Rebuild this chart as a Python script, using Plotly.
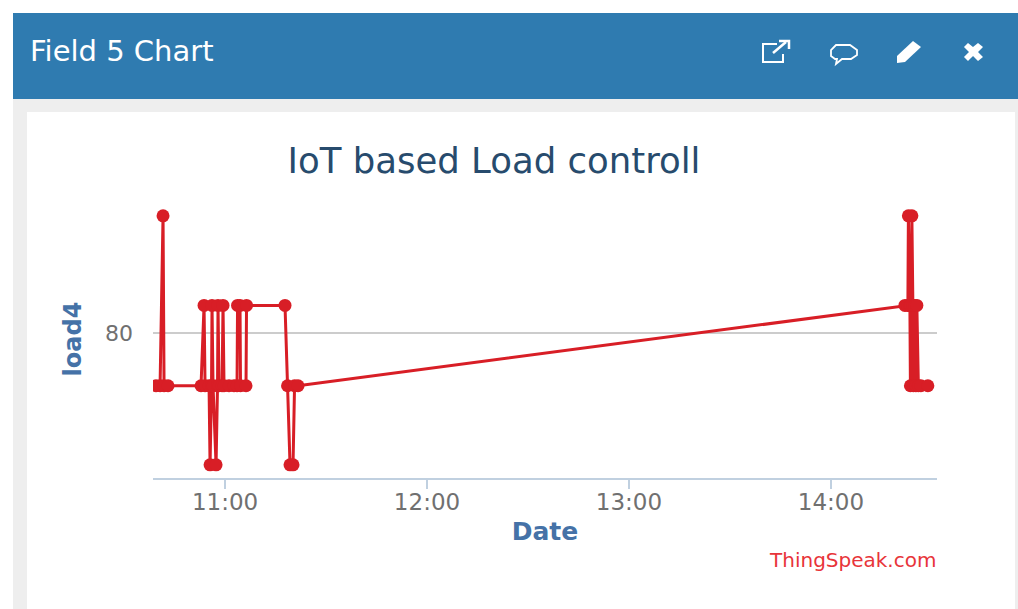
import plotly.graph_objects as go

W, H = 1018, 609

chart_title = "IoT based Load controll"
panel_title = "Field 5 Chart"
x_title = "Date"
y_title = "load4"
credit = "ThingSpeak.com"

times = [
    "10:39:31", "10:40:42", "10:41:35", "10:41:53", "10:43:04",
    "10:52:52", "10:53:46", "10:54:04", "10:55:15", "10:55:33", "10:55:59",
    "10:56:08", "10:56:26", "10:57:20", "10:57:46", "10:57:55", "10:58:13",
    "10:59:07", "10:59:24", "10:59:42", "11:01:11", "11:02:40", "11:03:34",
    "11:03:43", "11:04:27", "11:04:36", "11:06:14", "11:06:23", "11:17:49",
    "11:18:34", "11:19:18", "11:20:12", "11:20:39", "11:21:41",
    "14:21:58", "14:22:51", "14:23:00", "14:23:27", "14:23:36", "14:23:45",
    "14:24:02", "14:24:20", "14:24:29", "14:24:56", "14:25:14", "14:25:31",
    "14:25:58", "14:26:43", "14:28:47",
]
load4 = [
    76, 76, 88.9, 76, 76,
    76, 82.1, 76, 76, 70, 76,
    82.1, 76, 70, 76, 82.1, 76,
    76, 82.1, 76, 76, 76, 76,
    82.1, 82.1, 76, 76, 82.1, 82.1,
    76, 70, 70, 76, 76,
    82.1, 82.1, 88.9, 82.1, 76, 82.1,
    88.9, 82.1, 76, 82.1, 76, 82.1,
    76, 76, 76,
]

x_ticks = ["11:00", "12:00", "13:00", "14:00"]
y_ticks = [80]
x_range = ["10:38:36", "14:31:30"]
y_range = [69.0, 90.1]

DAY = "2018-03-12 "


def px(x):
    return x / W


def py(y):
    return 1 - y / H


def rect(x0, y0, x1, y1, color):
    return dict(type="rect", xref="paper", yref="paper", x0=px(x0), x1=px(x1),
                y0=py(y1), y1=py(y0), fillcolor=color, line_width=0, layer="below")


def icon(points, fill=None, line=None, width=2, close=False):
    d = "M " + " L ".join(f"{px(a):.5f},{py(b):.5f}" for a, b in points)
    if close:
        d += " Z"
    return dict(type="path", xref="paper", yref="paper", path=d,
                fillcolor=fill or "rgba(0,0,0,0)",
                line=dict(color=line or "rgba(0,0,0,0)", width=width), layer="above")


shapes = [
    rect(13, 13, 1018, 99, "#2f7bb0"),
    rect(13, 99, 1018, 609, "#eeeeee"),
    rect(27, 112, 1015, 609, "#ffffff"),
    # external link
    icon([(777, 44), (763, 44), (763, 62), (783, 62), (783, 54)], line="white", width=2),
    icon([(773, 53), (786, 42)], line="white", width=2.5),
    icon([(779, 41), (789, 41), (789, 49)], line="white", width=2.5),
    # speech bubble
    icon([(835, 59), (831, 56), (831, 50), (836, 45), (850, 45), (857, 50),
          (857, 55), (851, 59), (842, 59), (836, 64), (837, 59)], line="white", width=1.8, close=True),
    # pencil
    icon([(897, 56), (913, 41), (921, 47), (905, 62), (897, 63)], fill="white", close=True),
    # close cross
    icon([(968, 43), (973, 47), (978, 43), (983, 47), (978, 52), (983, 57),
          (978, 61), (973, 56), (968, 61), (964, 57), (969, 52), (964, 47)], fill="white", close=True),
]

fig = go.Figure(go.Scatter(
    x=[DAY + t for t in times], y=load4, mode="lines+markers",
    line=dict(color="#d81e26", width=3),
    marker=dict(color="#d81e26", size=13),
    hoverinfo="skip", showlegend=False,
))

font = "DejaVu Sans"
fig.update_layout(
    width=W, height=H, margin=dict(l=0, r=0, t=0, b=0),
    paper_bgcolor="white", plot_bgcolor="rgba(0,0,0,0)",
    font=dict(family=font),
    shapes=shapes,
    title=dict(text=chart_title, x=494 / W, xanchor="center", y=py(161), yanchor="middle",
               font=dict(size=35.5, color="#274b6d", family=font)),
    xaxis=dict(
        domain=[px(153), px(937)], range=[DAY + x_range[0], DAY + x_range[1]],
        tickvals=[DAY + t for t in x_ticks], ticktext=x_ticks, ticks="outside",
        ticklen=9, tickwidth=1.5, tickcolor="#c0d0e0", showline=True, linecolor="#c0d0e0",
        linewidth=2, showgrid=False, zeroline=False, ticklabelstandoff=-7,
        tickfont=dict(size=23, color="#707070"),
        title=dict(text=f"<b>{x_title}</b>", standoff=9,
                   font=dict(size=25, color="#4572a7")),
        automargin=False,
    ),
    yaxis=dict(
        domain=[py(478), py(200)], range=y_range, tickvals=y_ticks,
        showgrid=True, gridcolor="#cccccc", gridwidth=2, zeroline=False,
        showline=False, ticks="", ticklabelstandoff=19,
        tickfont=dict(size=22, color="#707070"),
        title=dict(text=f"<b>{y_title}</b>", standoff=16,
                   font=dict(size=24, color="#4572a7")),
        automargin=False,
    ),
    annotations=[
        dict(text=panel_title, xref="paper", yref="paper", x=px(28), y=py(51),
             xanchor="left", yanchor="middle", showarrow=False,
             font=dict(size=29, color="white", family=font)),
        dict(text=credit, xref="paper", yref="paper", x=px(938), y=py(560),
             xanchor="right", yanchor="middle", showarrow=False,
             font=dict(size=20, color="#e8343a", family=font)),
    ],
)

fig.write_html("out.html", config=dict(displayModeBar=False),
               post_script="document.body.style.margin='0';")
